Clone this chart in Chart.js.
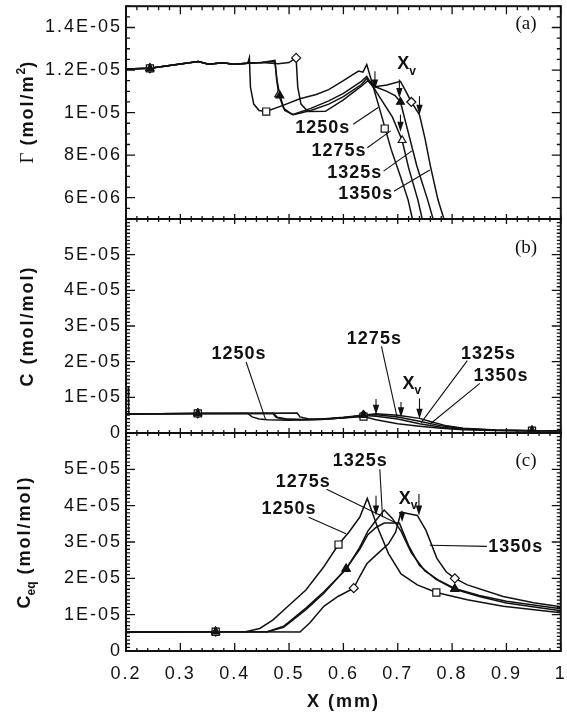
<!DOCTYPE html>
<html>
<head>
<meta charset="utf-8">
<script src="https://cdn.jsdelivr.net/npm/chart.js@4.4.1/dist/chart.umd.min.js"></script>
<style>
  html, body { margin: 0; padding: 0; background: #fff; }
  #fig { position: relative; width: 567px; height: 716px; overflow: hidden; }
  #fig canvas { position: absolute; left: 0; }
</style>
</head>
<body>
<div id="fig">
  <canvas id="panelA" width="567" height="230" style="top:0px"></canvas>
  <canvas id="panelB" width="567" height="237" style="top:208px"></canvas>
  <canvas id="panelC" width="567" height="294" style="top:422px"></canvas>
</div>
<script>
// ---- axes ----
const xTickValues = [0.2, 0.3, 0.4, 0.5, 0.6, 0.7, 0.8, 0.9, 1.0];
const xTickLabels = ['0.2', '0.3', '0.4', '0.5', '0.6', '0.7', '0.8', '0.9', '1'];
const gammaTicks = [6e-6, 8e-6, 1e-5, 1.2e-5, 1.4e-5];
const concTicks = [0, 1e-5, 2e-5, 3e-5, 4e-5, 5e-5];
const ceqTicks = [0, 1e-5, 2e-5, 3e-5, 4e-5, 5e-5];
const times = ['1250s', '1275s', '1325s', '1350s'];

// ---- (a) surface concentration Gamma, [x mm, mol/m2] ----
const gamma1250 = [[0.2,1.205e-5],[0.244,1.208e-5],[0.3,1.228e-5],[0.333,1.24e-5],[0.352,1.227e-5],[0.378,1.234e-5],[0.398,1.227e-5],[0.424,1.232e-5],[0.427,1.258e-5],[0.429,1.12e-5],[0.435,1.04e-5],[0.445,1.01e-5],[0.458,1.005e-5],[0.49,1.035e-5],[0.52,1.065e-5],[0.55,1.085e-5],[0.573,1.108e-5],[0.6,1.15e-5],[0.615,1.175e-5],[0.628,1.195e-5],[0.636,1.19e-5],[0.643,1.226e-5],[0.655,1.12e-5],[0.667,1.014e-5],[0.688,8.26e-6],[0.705,7.0e-6],[0.719,5.9e-6],[0.727,5.0e-6]];
const gamma1275 = [[0.2,1.205e-5],[0.244,1.208e-5],[0.3,1.228e-5],[0.333,1.24e-5],[0.352,1.227e-5],[0.378,1.234e-5],[0.398,1.227e-5],[0.424,1.232e-5],[0.45,1.235e-5],[0.474,1.245e-5],[0.477,1.16e-5],[0.481,1.085e-5],[0.49,1.02e-5],[0.506,9.9e-6],[0.54,1.02e-5],[0.573,1.055e-5],[0.6,1.09e-5],[0.633,1.147e-5],[0.643,1.17e-5],[0.655,1.12e-5],[0.67,1.06e-5],[0.69,9.8e-6],[0.708,8.7e-6],[0.72,7.4e-6],[0.737,5.9e-6],[0.745,5.0e-6]];
const gamma1325 = [[0.2,1.205e-5],[0.244,1.208e-5],[0.3,1.228e-5],[0.333,1.24e-5],[0.352,1.227e-5],[0.378,1.234e-5],[0.398,1.227e-5],[0.424,1.232e-5],[0.45,1.235e-5],[0.474,1.24e-5],[0.478,1.15e-5],[0.483,1.08e-5],[0.492,1.01e-5],[0.508,9.9e-6],[0.54,1.01e-5],[0.573,1.04e-5],[0.6,1.075e-5],[0.633,1.132e-5],[0.643,1.16e-5],[0.66,1.12e-5],[0.68,1.1e-5],[0.695,1.08e-5],[0.705,1.05e-5],[0.715,9.5e-6],[0.735,7.5e-6],[0.755,5.9e-6],[0.765,5.0e-6]];
const gamma1350 = [[0.2,1.205e-5],[0.244,1.208e-5],[0.3,1.228e-5],[0.333,1.24e-5],[0.352,1.227e-5],[0.378,1.234e-5],[0.398,1.227e-5],[0.424,1.232e-5],[0.45,1.235e-5],[0.48,1.23e-5],[0.5,1.235e-5],[0.513,1.257e-5],[0.516,1.12e-5],[0.522,1.04e-5],[0.535,1.005e-5],[0.567,1.006e-5],[0.6,1.06e-5],[0.633,1.124e-5],[0.645,1.15e-5],[0.655,1.12e-5],[0.68,1.13e-5],[0.705,1.147e-5],[0.715,1.1e-5],[0.725,1.05e-5],[0.74,9.9e-6],[0.75,8.8e-6],[0.76,7.5e-6],[0.774,5.9e-6],[0.785,5.0e-6]];
const gammaMarks1250 = [[0.244,1.208e-5],[0.458,1.005e-5],[0.676,9.25e-6]];
const gammaMarks1275 = [[0.244,1.208e-5],[0.481,1.085e-5],[0.708,8.7e-6]];
const gammaMarks1325 = [[0.244,1.208e-5],[0.483,1.08e-5],[0.705,1.05e-5]];
const gammaMarks1350 = [[0.244,1.208e-5],[0.513,1.257e-5],[0.725,1.05e-5]];

// ---- (b) gas concentration C, [x mm, mol/mol] ----
const conc1250 = [[0.204,1.32e-5],[0.205,5.3e-6],[0.26,5.4e-6],[0.332,5.5e-6],[0.424,5.5e-6],[0.432,4.5e-6],[0.445,3.9e-6],[0.46,3.7e-6],[0.5,3.6e-6],[0.55,3.8e-6],[0.6,4.2e-6],[0.637,4.6e-6],[0.66,3.7e-6],[0.7,2.6e-6],[0.74,1.9e-6],[0.78,1.3e-6],[0.82,9e-7],[0.88,7e-7],[0.947,6.4e-7],[1.0,6.2e-7]];
const conc1275 = [[0.2,5.3e-6],[0.26,5.4e-6],[0.332,5.5e-6],[0.47,5.5e-6],[0.476,4.4e-6],[0.49,3.9e-6],[0.52,3.7e-6],[0.56,3.8e-6],[0.6,4.3e-6],[0.637,4.9e-6],[0.66,4.7e-6],[0.7,3.9e-6],[0.74,2.6e-6],[0.78,1.6e-6],[0.82,1.1e-6],[0.88,7.5e-7],[0.947,6.4e-7],[1.0,6.2e-7]];
const conc1325 = [[0.2,5.3e-6],[0.26,5.4e-6],[0.332,5.5e-6],[0.472,5.5e-6],[0.478,4.4e-6],[0.495,3.9e-6],[0.53,3.8e-6],[0.57,3.9e-6],[0.61,4.4e-6],[0.637,5.0e-6],[0.66,5.1e-6],[0.7,4.5e-6],[0.74,3.3e-6],[0.78,2.0e-6],[0.82,1.25e-6],[0.88,8e-7],[0.947,6.4e-7],[1.0,6.2e-7]];
const conc1350 = [[0.2,5.3e-6],[0.26,5.4e-6],[0.332,5.5e-6],[0.515,5.6e-6],[0.52,4.5e-6],[0.535,4.0e-6],[0.56,3.9e-6],[0.6,4.4e-6],[0.637,5.0e-6],[0.66,5.4e-6],[0.7,5.0e-6],[0.74,4.1e-6],[0.76,3.2e-6],[0.79,2.0e-6],[0.82,1.35e-6],[0.88,8.5e-7],[0.947,6.5e-7],[1.0,6.3e-7]];
const concMarks1250 = [[0.332,5.5e-6],[0.637,4.6e-6],[0.947,6.4e-7]];
const concMarks1275 = [[0.332,5.5e-6],[0.637,4.9e-6],[0.947,6.4e-7]];
const concMarks1325 = [[0.332,5.5e-6],[0.637,5.0e-6],[0.947,6.4e-7]];
const concMarks1350 = [[0.332,5.5e-6],[0.637,5.0e-6],[0.947,6.5e-7]];

// ---- (c) equilibrium concentration Ceq, [x mm, mol/mol] ----
const ceq1250 = [[0.2,5.2e-6],[0.3,5.2e-6],[0.365,5.3e-6],[0.42,5.3e-6],[0.446,6.2e-6],[0.47,8.5e-6],[0.498,1.23e-5],[0.531,1.68e-5],[0.564,2.32e-5],[0.591,2.93e-5],[0.61,3.27e-5],[0.63,3.68e-5],[0.644,4.2e-5],[0.663,3.4e-5],[0.683,2.68e-5],[0.706,2.12e-5],[0.736,1.82e-5],[0.771,1.61e-5],[0.828,1.41e-5],[0.894,1.23e-5],[1.0,1.05e-5]];
const ceq1275 = [[0.2,5.2e-6],[0.365,5.3e-6],[0.46,5.3e-6],[0.49,6.5e-6],[0.531,1.14e-5],[0.564,1.59e-5],[0.605,2.27e-5],[0.63,2.8e-5],[0.645,3.2e-5],[0.66,3.4e-5],[0.675,3.52e-5],[0.703,3.52e-5],[0.72,2.9e-5],[0.74,2.35e-5],[0.77,1.98e-5],[0.805,1.7e-5],[0.85,1.5e-5],[0.9,1.32e-5],[1.0,1.11e-5]];
const ceq1325 = [[0.2,5.2e-6],[0.365,5.3e-6],[0.46,5.3e-6],[0.49,6.8e-6],[0.531,1.18e-5],[0.564,1.63e-5],[0.605,2.25e-5],[0.63,2.85e-5],[0.645,3.3e-5],[0.66,3.6e-5],[0.675,3.88e-5],[0.69,3.65e-5],[0.706,3.3e-5],[0.725,2.7e-5],[0.75,2.2e-5],[0.775,1.95e-5],[0.805,1.72e-5],[0.85,1.53e-5],[0.9,1.37e-5],[1.0,1.16e-5]];
const ceq1350 = [[0.2,5.2e-6],[0.365,5.3e-6],[0.52,5.2e-6],[0.538,7.7e-6],[0.564,1.23e-5],[0.59,1.5e-5],[0.619,1.73e-5],[0.63,2.05e-5],[0.643,2.4e-5],[0.663,2.68e-5],[0.683,2.95e-5],[0.696,3.27e-5],[0.706,3.82e-5],[0.72,3.78e-5],[0.736,3.73e-5],[0.752,3.32e-5],[0.772,2.55e-5],[0.789,2.18e-5],[0.805,2.0e-5],[0.828,1.82e-5],[0.894,1.5e-5],[0.95,1.33e-5],[1.0,1.22e-5]];
const ceqMarks1250 = [[0.365,5.3e-6],[0.591,2.93e-5],[0.771,1.61e-5]];
const ceqMarks1275 = [[0.365,5.3e-6],[0.605,2.27e-5],[0.805,1.7e-5]];
const ceqMarks1325 = [[0.365,5.3e-6],[0.605,2.25e-5],[0.805,1.72e-5]];
const ceqMarks1350 = [[0.365,5.3e-6],[0.619,1.73e-5],[0.805,2.0e-5]];

// ---- annotations, in data units: [text, x, y], leader [x1,y1,x2,y2], arrow [x, yFrom, yTip] ----
const gammaNotes = [['1250s',0.562,9.29e-6],['1275s',0.592,8.2e-6],['1325s',0.621,7.18e-6],['1350s',0.641,6.16e-6]];
const gammaLeaders = [[0.618,9.45e-6,0.664,1.024e-5],[0.644,8.35e-6,0.687,9.14e-6],[0.674,7.25e-6,0.726,8.2e-6],[0.693,6.3e-6,0.759,7.3e-6]];
const gammaArrows = [[0.658,1.194e-5,1.108e-5],[0.703,1.155e-5,1.069e-5],[0.705,9.9e-6,9.1e-6],[0.74,1.077e-5,9.9e-6]];
const concNotes = [['1250s',0.408,2.22e-5],['1275s',0.657,2.64e-5],['1325s',0.867,2.22e-5],['1350s',0.89,1.61e-5]];
const concLeaders = [[0.421,1.99e-5,0.457,3.7e-6],[0.67,2.43e-5,0.699,4.3e-6],[0.828,2.03e-5,0.743,2.9e-6],[0.851,1.39e-5,0.759,2.45e-6]];
const concArrows = [[0.66,9.5e-6,5.1e-6],[0.706,8.7e-6,4.4e-6],[0.74,9.7e-6,4.0e-6]];
const ceqNotes = [['1325s',0.631,5.23e-5],['1275s',0.526,4.64e-5],['1250s',0.5,3.91e-5],['1350s',0.917,2.86e-5]];
const ceqLeaders = [[0.667,5.0e-5,0.672,3.68e-5],[0.569,4.45e-5,0.7,3.5e-5],[0.536,3.68e-5,0.605,3.23e-5],[0.864,2.88e-5,0.759,2.91e-5]];
const ceqArrows = [[0.66,4.27e-5,3.73e-5],[0.708,3.86e-5,3.55e-5],[0.739,4.32e-5,3.73e-5]];

const INK = '#111';
const SANS = '"Liberation Sans", Arial, sans-serif';
const SERIF = '"Liberation Serif", "Times New Roman", serif';
// marker look per time; the filled one is drawn on top
const markStyles = [
  { style: 'rect', r: 5, fill: '#fff', order: 1 },
  { style: 'triangle', r: 4.5, fill: '#fff', order: 1 },
  { style: 'triangle', r: 4.5, fill: INK, order: 0 },
  { style: 'rectRot', r: 4.5, fill: '#fff', order: 1 }
];

function toXY(pts) { return pts.map(([x, y]) => ({ x, y })); }

function sci(v) {
  if (v === 0) return '0';
  const e = Math.floor(Math.log10(Math.abs(v)) + 1e-9);
  const m = +(v / Math.pow(10, e)).toFixed(2);
  return m + 'E-' + String(-e).padStart(2, '0');
}

// canvas letter spacing for the library's tick labels
const spacing = { id: 'spacing', beforeDraw(chart) { chart.ctx.letterSpacing = '2px'; } };

function framePlugin(p) {
  return {
    id: 'frame',
    afterDatasetsDraw(chart) {
      const { ctx, chartArea: a, scales: { x, y } } = chart;
      ctx.save();
      ctx.strokeStyle = INK;
      ctx.lineWidth = 2;
      ctx.strokeRect(a.left, a.top, a.right - a.left, a.bottom - a.top);
      ctx.lineWidth = 1.3;
      ctx.beginPath();
      for (let i = 0; i <= 40; i++) {
        const px = x.getPixelForValue(0.2 + i * 0.02);
        const major = i % 5 === 0;
        ctx.moveTo(px, a.top); ctx.lineTo(px, a.top + p.tickTop[major ? 0 : 1]);
        ctx.moveTo(px, a.bottom); ctx.lineTo(px, a.bottom - p.tickBottom[major ? 0 : 1]);
      }
      const n = Math.round((p.yMax - p.yMin) / p.yMinor);
      for (let i = 0; i <= n; i++) {
        const v = p.yMin + i * p.yMinor;
        const q = v / p.yMajor;
        const len = Math.abs(q - Math.round(q)) < 1e-6 ? 9 : 4;
        const py = y.getPixelForValue(v);
        ctx.moveTo(a.left, py); ctx.lineTo(a.left + len, py);
        ctx.moveTo(a.right, py); ctx.lineTo(a.right - len, py);
      }
      ctx.stroke();
      ctx.restore();
    }
  };
}

function notesPlugin(p) {
  return {
    id: 'notes',
    afterDraw(chart) {
      const { ctx, scales: { x, y } } = chart;
      const X = v => x.getPixelForValue(v), Y = v => y.getPixelForValue(v);
      ctx.save();
      ctx.fillStyle = INK; ctx.strokeStyle = INK; ctx.lineWidth = 1.1;
      ctx.beginPath();
      p.leaders.forEach(([x1, y1, x2, y2]) => { ctx.moveTo(X(x1), Y(y1)); ctx.lineTo(X(x2), Y(y2)); });
      ctx.stroke();
      p.arrows.forEach(([ax, y0, y1]) => {
        const px = X(ax), top = Y(y0), tip = Y(y1);
        ctx.beginPath(); ctx.moveTo(px, top); ctx.lineTo(px, tip - 6); ctx.stroke();
        ctx.beginPath(); ctx.moveTo(px - 3.2, tip - 10); ctx.lineTo(px + 3.2, tip - 10); ctx.lineTo(px, tip); ctx.closePath(); ctx.fill();
      });
      ctx.textAlign = 'center'; ctx.textBaseline = 'middle';
      ctx.font = 'bold 18px ' + SANS; ctx.letterSpacing = '1px';
      p.notes.forEach(([t, nx, ny]) => ctx.fillText(t, X(nx), Y(ny)));
      // X with subscript v
      const vx = X(p.xv[0]), vy = Y(p.xv[1]);
      ctx.letterSpacing = '0px';
      ctx.fillText('X', vx, vy);
      ctx.font = 'bold 12px ' + SANS; ctx.textAlign = 'left';
      ctx.fillText('v', vx + 6, vy + 7);
      ctx.font = '19px ' + SERIF; ctx.textAlign = 'center';
      ctx.fillText(p.tag[0], X(p.tag[1]), Y(p.tag[2]));
      ctx.restore();
    }
  };
}

function titlePlugin(p) {
  return {
    id: 'ytitle',
    afterDraw(chart) {
      const { ctx, chartArea: a } = chart;
      ctx.save();
      ctx.translate(p.titleX, (a.top + a.bottom) / 2);
      ctx.rotate(-Math.PI / 2);
      ctx.fillStyle = INK; ctx.textBaseline = 'alphabetic'; ctx.textAlign = 'left';
      let total = 0;
      const w = p.title.map(s => {
        ctx.font = s.font; ctx.letterSpacing = s.ls || '0px';
        const m = ctx.measureText(s.text).width; total += m; return m;
      });
      let u = -total / 2;
      p.title.forEach((s, i) => {
        ctx.font = s.font; ctx.letterSpacing = s.ls || '0px';
        ctx.fillText(s.text, u, s.dy || 0);
        u += w[i];
      });
      ctx.restore();
    }
  };
}

function makePanel(id, p) {
  const datasets = [];
  p.lines.forEach(pts => datasets.push({
    data: toXY(pts), showLine: true, borderColor: INK, borderWidth: 1.5, pointRadius: 0, order: 2
  }));
  p.marks.forEach((pts, i) => {
    const st = markStyles[i];
    datasets.push({
      data: toXY(pts), showLine: false, pointStyle: st.style, pointRadius: st.r,
      pointBorderColor: INK, pointBackgroundColor: st.fill, pointBorderWidth: 1.2, order: st.order
    });
  });
  return new Chart(document.getElementById(id), {
    type: 'scatter',
    data: { datasets },
    options: {
      responsive: false,
      animation: false,
      events: [],
      layout: { padding: { top: p.padTop, right: 3, bottom: 0, left: 0 } },
      plugins: { legend: { display: false }, tooltip: { enabled: false } },
      scales: {
        x: {
          type: 'linear', min: 0.2, max: 1.0,
          grid: { display: false, drawTicks: false }, border: { display: false },
          afterBuildTicks: s => { s.ticks = xTickValues.map(v => ({ value: v })); },
          afterFit: s => { s.height = p.xAxisH; s.paddingLeft = 0; s.paddingRight = 0; },
          ticks: {
            display: p.showX, autoSkip: false, maxRotation: 0, padding: 12, color: INK,
            font: { family: SANS, size: 18 }, callback: (v, i) => xTickLabels[i]
          },
          title: {
            display: p.showX, text: 'X (mm)', color: INK,
            font: { family: SANS, size: 18, weight: 'bold' }, padding: { top: 0, bottom: 3 }
          }
        },
        y: {
          type: 'linear', min: p.yMin, max: p.yMax,
          grid: { display: false, drawTicks: false }, border: { display: false },
          afterBuildTicks: s => { s.ticks = p.yTicks.map(v => ({ value: v })); },
          afterFit: s => { s.width = 126; s.paddingTop = 0; s.paddingBottom = 0; },
          ticks: {
            autoSkip: false, padding: 4, color: INK,
            font: { family: SANS, size: 18 }, callback: v => sci(v)
          }
        }
      }
    },
    plugins: [spacing, framePlugin(p), notesPlugin(p), titlePlugin(p)]
  });
}

makePanel('panelA', {
  padTop: 6, xAxisH: 11, showX: false,
  yMin: 5e-6, yMax: 1.5e-5, yTicks: gammaTicks, yMajor: 2e-6, yMinor: 5e-7,
  tickTop: [8, 4], tickBottom: [5, 3],
  lines: [gamma1250, gamma1275, gamma1325, gamma1350],
  marks: [gammaMarks1250, gammaMarks1275, gammaMarks1325, gammaMarks1350],
  notes: gammaNotes, leaders: gammaLeaders, arrows: gammaArrows,
  xv: [0.71, 1.227e-5], tag: ['(a)', 0.936, 1.416e-5],
  titleX: 33,
  title: [
    { text: '\u0393', font: '19px ' + SERIF },
    { text: ' (mol/m', font: 'bold 18px ' + SANS, ls: '2px' },
    { text: '2', font: 'bold 12px ' + SANS, dy: -8 },
    { text: ')', font: 'bold 18px ' + SANS }
  ]
});

makePanel('panelB', {
  padTop: 11, xAxisH: 12, showX: false,
  yMin: 0, yMax: 6e-5, yTicks: concTicks, yMajor: 1e-5, yMinor: 1e-6,
  tickTop: [5, 3], tickBottom: [5, 3],
  lines: [conc1250, conc1275, conc1325, conc1350],
  marks: [concMarks1250, concMarks1275, concMarks1325, concMarks1350],
  notes: concNotes, leaders: concLeaders, arrows: concArrows,
  xv: [0.72, 1.37e-5], tag: ['(b)', 0.936, 5.19e-5],
  titleX: 33,
  title: [{ text: 'C (mol/mol)', font: 'bold 18px ' + SANS, ls: '2px' }]
});

makePanel('panelC', {
  padTop: 11, xAxisH: 65, showX: true,
  yMin: 0, yMax: 6e-5, yTicks: ceqTicks, yMajor: 1e-5, yMinor: 1e-6,
  tickTop: [5, 3], tickBottom: [8, 3],
  lines: [ceq1250, ceq1275, ceq1325, ceq1350],
  marks: [ceqMarks1250, ceqMarks1275, ceqMarks1325, ceqMarks1350],
  notes: ceqNotes, leaders: ceqLeaders, arrows: ceqArrows,
  xv: [0.713, 4.18e-5], tag: ['(c)', 0.936, 5.23e-5],
  titleX: 30,
  title: [
    { text: 'C', font: 'bold 18px ' + SANS },
    { text: 'eq', font: 'bold 12px ' + SANS, dy: 5 },
    { text: ' (mol/mol)', font: 'bold 18px ' + SANS, ls: '2px' }
  ]
});
</script>
</body>
</html>
